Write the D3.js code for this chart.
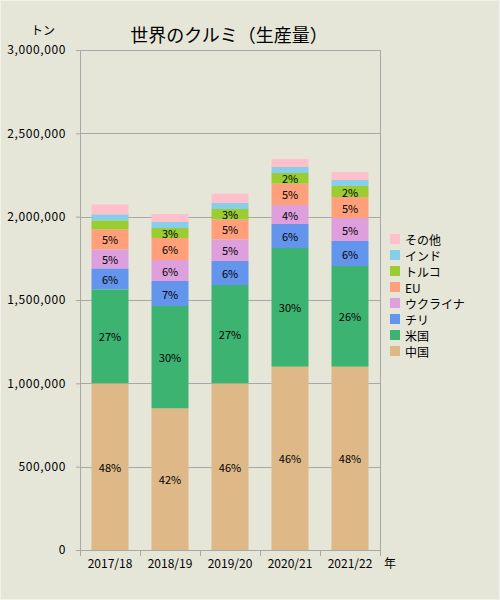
<!DOCTYPE html>
<html>
<head>
<meta charset="utf-8">
<script src="https://cdn.jsdelivr.net/npm/d3@7"></script>
<style>
  body { margin: 0; background: #e6e6d8; }
  svg { display: block; font-family: "Noto Sans CJK JP", sans-serif; }
</style>
</head>
<body>
<svg id="chart"></svg>
<script>
const years = ["2017/18", "2018/19", "2019/20", "2020/21", "2021/22"];
const seriesNames = ["中国", "米国", "チリ", "ウクライナ", "EU", "トルコ", "インド", "その他"];
const seriesColors = ["#deb887", "#3cb371", "#6495ed", "#dda0dd", "#ffa07a", "#9acd32", "#87ceeb", "#ffc0cb"];

// トン
const china   = [1000000, 850000, 1000000, 1100000, 1100000];
const usa     = [564000, 614000, 590000, 712000, 604000];
const chile   = [126000, 150000, 144000, 144000, 150000];
const ukraine = [114000, 126000, 130000, 114000, 138000];
const eu      = [120000, 132000, 120000, 128000, 126000];
const turkey  = [54000, 60000, 62000, 64000, 66000];
const india   = [36000, 36000, 36000, 36000, 36000];
const others  = [60000, 48000, 56000, 48000, 48000];

// shares printed on the bars (null = no label)
const chinaPct   = [48, 42, 46, 46, 48];
const usaPct     = [27, 30, 27, 30, 26];
const chilePct   = [6, 7, 6, 6, 6];
const ukrainePct = [5, 6, 5, 4, 5];
const euPct      = [5, 6, 5, 5, 5];
const turkeyPct  = [null, 3, 3, 2, 2];
const noPct      = [null, null, null, null, null];

const yTicks = [0, 500000, 1000000, 1500000, 2000000, 2500000, 3000000];

const allValues = [china, usa, chile, ukraine, eu, turkey, india, others];
const allPct = [chinaPct, usaPct, chilePct, ukrainePct, euPct, turkeyPct, noPct, noPct];

const W = 500, H = 600;
const margin = { top: 50, right: 120, bottom: 50, left: 80 };
const width = W - margin.left - margin.right,
      height = H - margin.top - margin.bottom;

const svg = d3.select("#chart").attr("width", W).attr("height", H);

svg.append("rect")
  .attr("x", 0.5).attr("y", 0.5)
  .attr("width", W - 1).attr("height", H - 1)
  .attr("fill", "#e6e6d8")
  .attr("stroke", "#f2f2ea");

const g = svg.append("g").attr("transform", `translate(${margin.left},${margin.top})`);

const table = years.map((yr, i) => {
  const row = { year: yr };
  seriesNames.forEach((s, k) => { row[s] = allValues[k][i]; });
  return row;
});

const stacked = d3.stack().keys(seriesNames)(table);

const x = d3.scaleBand().domain(years).range([0, width]).paddingInner(0.383).paddingOuter(0.1915);
const y = d3.scaleLinear().domain([0, 3000000]).range([height, 0]);
const color = d3.scaleOrdinal().domain(seriesNames).range(seriesColors);

// grid
g.append("g")
  .selectAll("line")
  .data(yTicks)
  .join("line")
  .attr("x1", 0).attr("x2", width)
  .attr("y1", d => Math.round(y(d)) + 0.5)
  .attr("y2", d => Math.round(y(d)) + 0.5)
  .attr("stroke", "#a8a8a8");

g.append("line")
  .attr("x1", width + 0.5).attr("x2", width + 0.5)
  .attr("y1", 0).attr("y2", height)
  .attr("stroke", "#a8a8a8");

// bars
const layers = g.append("g").selectAll("g")
  .data(stacked)
  .join("g")
  .attr("fill", d => color(d.key));

layers.selectAll("rect")
  .data(d => d)
  .join("rect")
  .attr("x", d => x(d.data.year))
  .attr("y", d => y(d[1]))
  .attr("width", x.bandwidth())
  .attr("height", d => y(d[0]) - y(d[1]));

// share labels
stacked.forEach((layer, k) => {
  g.append("g")
    .selectAll("text")
    .data(layer.filter((d, i) => allPct[k][i] != null).map(d => ({ d, pct: allPct[k][years.indexOf(d.data.year)] })))
    .join("text")
    .attr("x", o => x(o.d.data.year) + x.bandwidth() / 2)
    .attr("y", o => (y(o.d[0]) + y(o.d[1])) / 2)
    .attr("text-anchor", "middle")
    .attr("dominant-baseline", "central")
    .style("font-size", "11px")
    .style("fill", "#000")
    .text(o => o.pct + "%");
});

// y axis
const yAxis = g.append("g")
  .call(d3.axisLeft(y).tickValues(yTicks).tickFormat(d3.format(",")).tickSize(4).tickPadding(10));
yAxis.select(".domain").attr("stroke", "#a8a8a8");
yAxis.selectAll(".tick line").attr("stroke", "#a8a8a8");
yAxis.selectAll("text").style("font-size", "12px").style("fill", "#000")
  .style("letter-spacing", "0.6px")
  .style("font-family", "\"Noto Sans CJK JP\", sans-serif");

// x axis
const xAxis = g.append("g")
  .attr("transform", `translate(0,${height})`)
  .call(d3.axisBottom(x).tickSize(0).tickPadding(9));
xAxis.select(".domain").attr("stroke", "#a8a8a8");
xAxis.selectAll("text").style("font-size", "12px").style("fill", "#000")
  .style("font-family", "\"Noto Sans CJK JP\", sans-serif");

const edges = years.map(yr => x(yr) - (x.step() - x.bandwidth()) / 2).concat([width]);
xAxis.selectAll(".edge")
  .data(edges)
  .join("line")
  .attr("class", "edge")
  .attr("x1", d => Math.round(d) + 0.5).attr("x2", d => Math.round(d) + 0.5)
  .attr("y1", 0).attr("y2", 6)
  .attr("stroke", "#a8a8a8");

g.append("text")
  .attr("x", width + 4)
  .attr("y", height + 18)
  .style("font-size", "12px")
  .text("年");

g.append("text")
  .attr("x", -37)
  .attr("y", -15)
  .attr("text-anchor", "middle")
  .style("font-size", "12px")
  .text("トン");

// title
svg.append("text")
  .attr("x", 229)
  .attr("y", 42)
  .attr("text-anchor", "middle")
  .style("font-size", "18px")
  .text("世界のクルミ（生産量）");

// legend
const legend = svg.append("g").attr("transform", "translate(390,234)");
const legendItems = legend.selectAll("g")
  .data(seriesNames.slice().reverse())
  .join("g")
  .attr("transform", (d, i) => `translate(0,${i * 16})`);

legendItems.append("rect")
  .attr("width", 10).attr("height", 10)
  .attr("fill", d => color(d));

legendItems.append("text")
  .attr("x", 15).attr("y", 5)
  .attr("dominant-baseline", "central")
  .style("font-size", "12px")
  .text(d => d);
</script>
</body>
</html>
